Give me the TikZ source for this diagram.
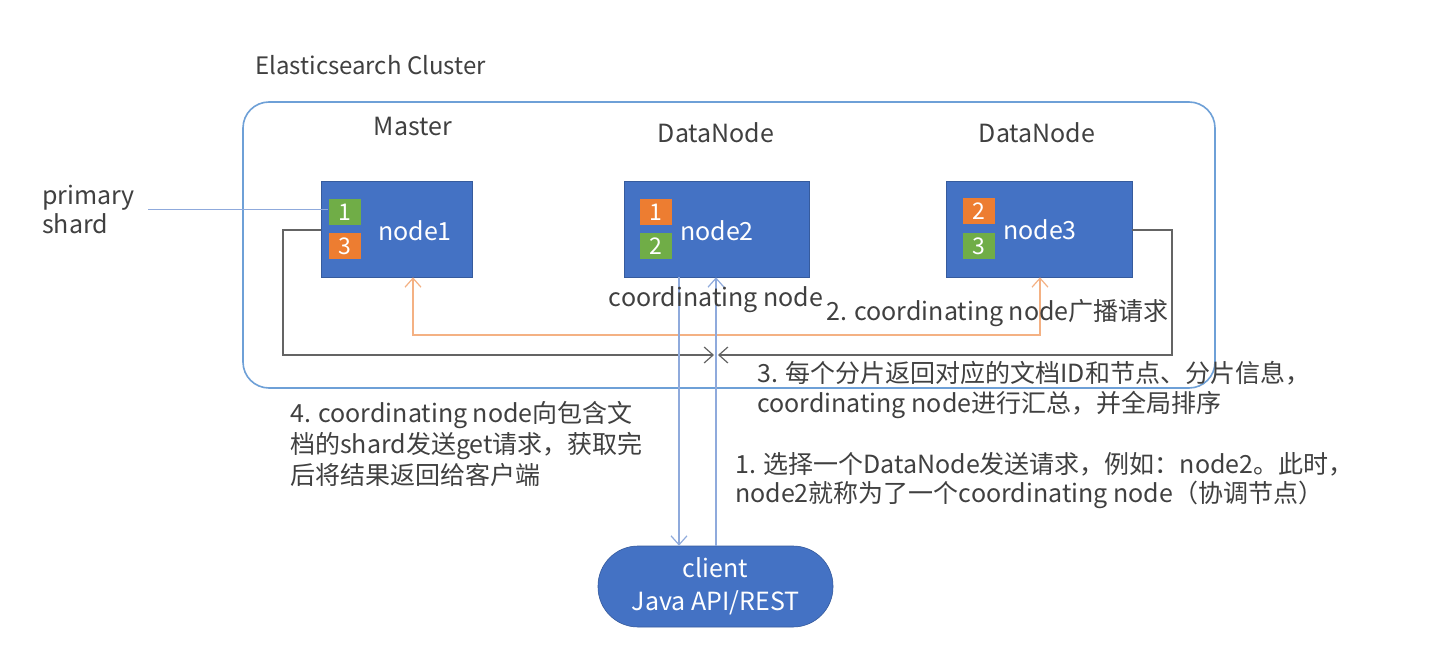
\documentclass[tikz,border=0pt]{standalone}
\usepackage{fontspec}
\setmainfont{Noto Sans CJK SC}
\usetikzlibrary{arrows.meta}
\definecolor{txt}{RGB}{64,64,64}
\definecolor{boxblue}{RGB}{68,114,196}
\definecolor{shgreen}{RGB}{112,173,71}
\definecolor{shorange}{RGB}{237,125,49}
\definecolor{clusterline}{RGB}{110,160,215}
\definecolor{bluearrow}{RGB}{143,170,220}
\definecolor{orangearrow}{RGB}{244,177,131}
\definecolor{grayline}{RGB}{100,100,100}
\tikzset{
  lbl/.style={text=txt, font=\fontsize{25}{30}\selectfont, inner sep=0pt},
  esnode/.style={fill=boxblue, draw=boxblue!80!black, line width=0.6pt, minimum height=96pt, inner sep=0pt},
  shard/.style={minimum width=32pt, minimum height=26pt, inner sep=0pt, text=white, font=\fontsize{23}{23}\selectfont},
  gshard/.style={shard, fill=shgreen},
  oshard/.style={shard, fill=shorange},
  nlbl/.style={text=white, font=\fontsize{25}{25}\selectfont, inner sep=0pt},
  tip/.style={-{Straight Barb[length=9pt,width=16pt,line width=1.2pt]}},
  tips/.style={{Straight Barb[length=9pt,width=16pt,line width=1.2pt]}-{Straight Barb[length=9pt,width=16pt,line width=1.2pt]}},
  bline/.style={draw=bluearrow, line width=1.4pt},
  oline/.style={draw=orangearrow, line width=1.4pt},
  gline/.style={draw=grayline, line width=1.4pt},
}
\begin{document}
\begin{tikzpicture}[x=1pt,y=-1pt]
\useasboundingbox (0,0) rectangle (1442,668);
\fill[white] (0,0) rectangle (1442,668);

% cluster
\node[lbl, anchor=west, font=\fontsize{24}{30}\selectfont] (title) at (255,65) {Elasticsearch Cluster};
\draw[clusterline, line width=1.6pt, rounded corners=26pt] (243,102) rectangle (1215,388);

% role labels
\node[lbl] (m) at (413,127) {Master};
\node[lbl] (d2) at (716,133) {DataNode};
\node[lbl] (d3) at (1037,133) {DataNode};

% nodes
\node[esnode, minimum width=151pt] (n1) at (396.5,229) {};
\node[esnode, minimum width=185pt] (n2) at (716.5,229) {};
\node[esnode, minimum width=186pt] (n3) at (1039,229) {};

\node[gshard] (s11) at (344.5,212.5) {1};
\node[oshard] (s13) at (344.5,246.5) {3};
\node[oshard] (s21) at (656,212.5) {1};
\node[gshard] (s22) at (656,246.5) {2};
\node[oshard] (s32) at (978.5,211.5) {2};
\node[gshard] (s33) at (978.5,246.5) {3};

\node[nlbl] (t1) at (415,231) {node1};
\node[nlbl] (t2) at (717,231) {node2};
\node[nlbl] (t3) at (1040,230) {node3};

% primary shard
\node[lbl, anchor=west, align=left, font=\fontsize{25}{29}\selectfont] (ps) at (42,209) {primary\\shard};
\coordinate (psend) at (148,210);
\draw[bline, line width=1pt] (psend) -- (s11.west |- psend);

% gray return lines
\coordinate (gm) at (716,355);
\draw[gline, tip] (n1.west |- 0,230) -- (283,230) -- (283,355) -- ([xshift=-2pt]gm);
\draw[gline, tip] (n3.east |- 0,230) -- (1172,230) -- (1172,355) -- ([xshift=2pt]gm);

% orange broadcast
\draw[oline, tips] (n1.south -| 413,0) -- (413,335) -- (1040,335) -- (n3.south -| 1040,0);

% client
\node[fill=boxblue, draw=boxblue!80!black, line width=0.6pt, minimum width=235pt, minimum height=81pt, rounded corners=40pt, inner sep=0pt, text=white, align=center, font=\fontsize{25}{33}\selectfont] (client) at (715.5,586.5) {client\\Java API/REST};

% blue request/response
\draw[bline, tip] (n2.south -| 679,0) -- (client.north -| 679,0);
\draw[bline, tip] (client.north -| 716,0) -- (n2.south -| 716,0);

% labels
\node[lbl] (cn) at (716,300) {coordinating node};
\node[lbl, anchor=west] (l2) at (826,313) {2. coordinating node广播请求};
\node[lbl, anchor=west, align=left] (l3) at (757,390) {3. 每个分片返回对应的文档ID和节点、分片信息，\\coordinating node进行汇总，并全局排序};
\node[lbl, anchor=west, align=left, font=\fontsize{25}{31}\selectfont] (l4) at (290,444) {4. coordinating node向包含文\\档的shard发送get请求，获取完\\后将结果返回给客户端};
\node[lbl, anchor=west, align=left, font=\fontsize{25}{29}\selectfont] (l1) at (735,480.5) {1. 选择一个DataNode发送请求，例如：node2。此时，\\node2就称为了一个coordinating node（协调节点）};
\end{tikzpicture}
\end{document}
